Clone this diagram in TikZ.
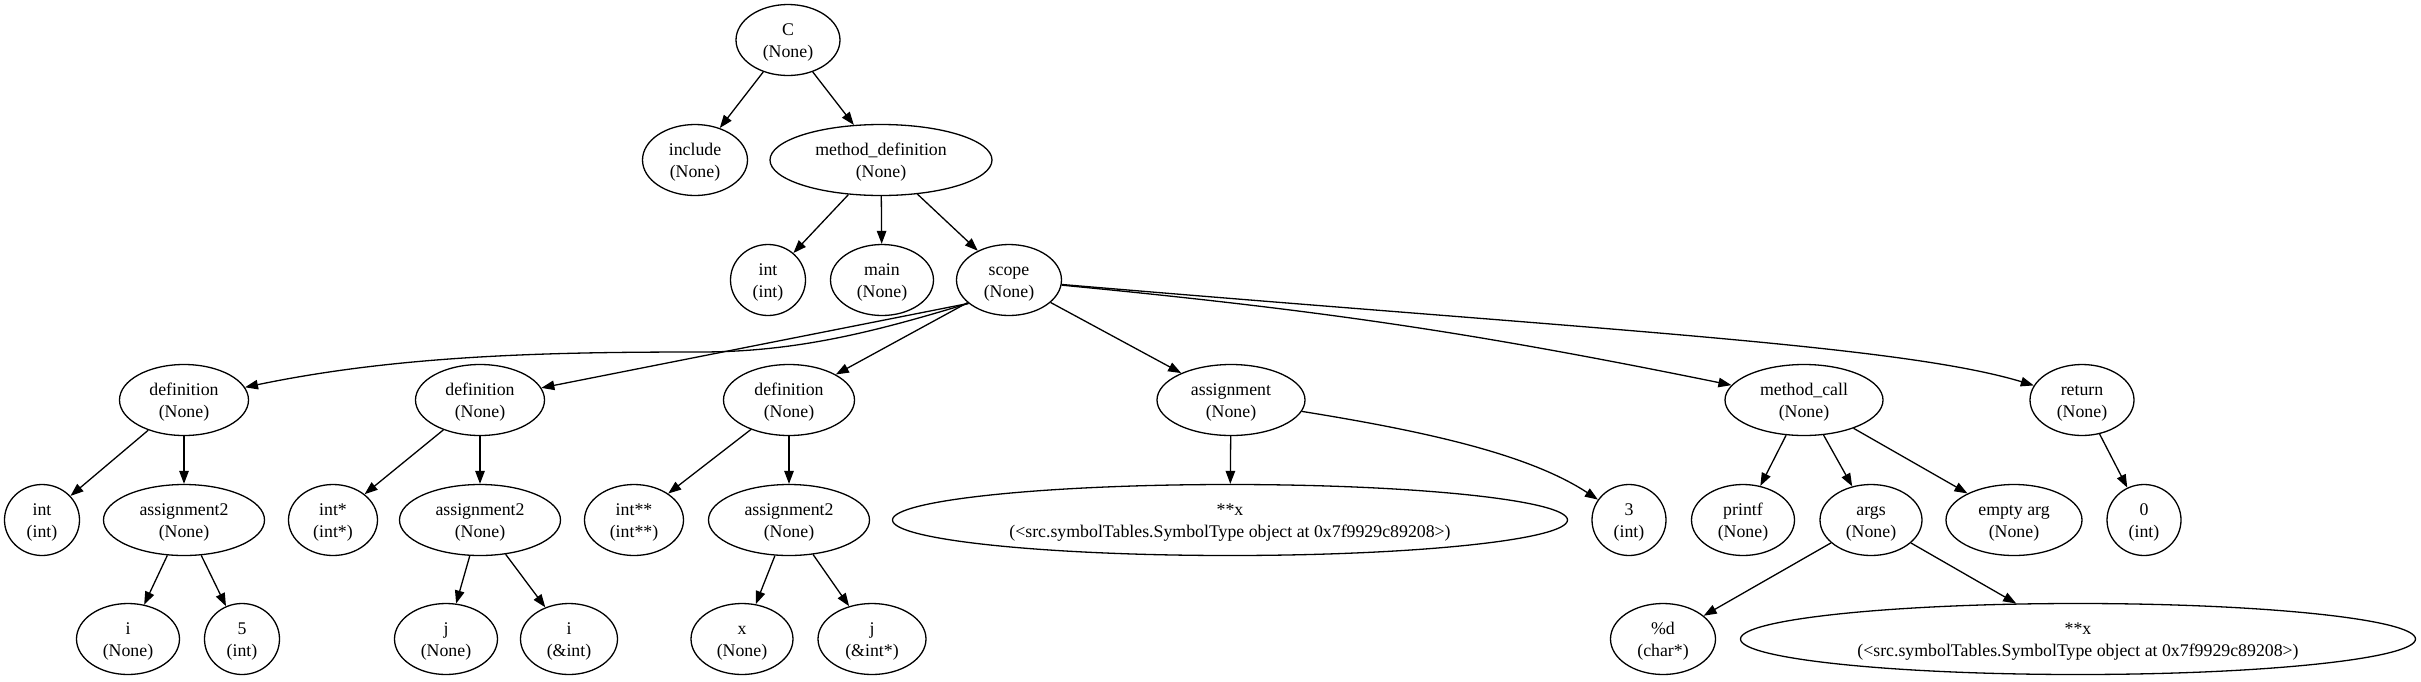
\documentclass[tikz,border=0pt]{standalone}
\usepackage{fontspec}
\setmainfont{Liberation Serif}
\usetikzlibrary{shapes.geometric,arrows.meta}
\newcommand\gvfont{\fontsize{17.8pt}{21.5pt}\selectfont}
\tikzset{
  gv/.style={ellipse, draw, line width=1.3pt, inner sep=0pt, minimum height=71pt,
             align=center, font=\gvfont, text height=38pt, text depth=4pt},
  arr/.style={-{Triangle[length=13pt,width=9.5pt]}, line width=1.3pt},
}
\begin{document}
\begin{tikzpicture}[x=1pt,y=-1pt]
\path[fill=white, use as bounding box] (0,0) rectangle (2421,681);
% rank 0
\node[gv, minimum width=104pt] (C) at (788,40) {C\\(None)};
% rank 1
\node[gv, minimum width=105pt] (inc) at (695,160) {include\\(None)};
\node[gv, minimum width=222pt] (md) at (881,160) {method\_definition\\(None)};
% rank 2
\node[gv, minimum width=75pt] (ti) at (768,280) {int\\(int)};
\node[gv, minimum width=103pt] (mn) at (882,280) {main\\(None)};
\node[gv, minimum width=105pt] (sc) at (1009,280) {scope\\(None)};
% rank 3
\node[gv, minimum width=129pt] (d1) at (184,400) {definition\\(None)};
\node[gv, minimum width=129pt] (d2) at (480,400) {definition\\(None)};
\node[gv, minimum width=131pt] (d3) at (789,400) {definition\\(None)};
\node[gv, minimum width=148pt] (as) at (1231,400) {assignment\\(None)};
\node[gv, minimum width=158pt] (mc) at (1804,400) {method\_call\\(None)};
\node[gv, minimum width=104pt] (rt) at (2082,400) {return\\(None)};
% rank 4
\node[gv, minimum width=75pt] (il) at (42,520) {int\\(int)};
\node[gv, minimum width=161pt] (a1) at (184,520) {assignment2\\(None)};
\node[gv, minimum width=89pt] (ip) at (333,520) {int*\\(int*)};
\node[gv, minimum width=161pt] (a2) at (480,520) {assignment2\\(None)};
\node[gv, minimum width=99pt] (ipp) at (634,520) {int**\\(int**)};
\node[gv, minimum width=161pt] (a3) at (789,520) {assignment2\\(None)};
\node[gv, minimum width=675pt] (xa) at (1230,520) {**x\\(<src.symbolTables.SymbolType object at 0x7f9929c89208>)};
\node[gv, minimum width=74pt] (th) at (1629,520) {3\\(int)};
\node[gv, minimum width=103pt] (pf) at (1743,520) {printf\\(None)};
\node[gv, minimum width=102pt] (ar) at (1871,520) {args\\(None)};
\node[gv, minimum width=136pt] (ea) at (2014,520) {empty arg\\(None)};
\node[gv, minimum width=74pt] (zr) at (2144,520) {0\\(int)};
% rank 5
\node[gv, minimum width=103pt] (i1) at (128,639) {i\\(None)};
\node[gv, minimum width=75pt] (f5) at (242,639) {5\\(int)};
\node[gv, minimum width=103pt] (j1) at (446,639) {j\\(None)};
\node[gv, minimum width=97pt] (i2) at (569,639) {i\\(\&int)};
\node[gv, minimum width=102pt] (x1) at (742,639) {x\\(None)};
\node[gv, minimum width=108pt] (j2) at (872,639) {j\\(\&int*)};
\node[gv, minimum width=105pt] (pd) at (1663,639) {\%d\\(char*)};
\node[gv, minimum width=675pt] (xb) at (2078,639) {**x\\(<src.symbolTables.SymbolType object at 0x7f9929c89208>)};
% edges
\draw[arr] (C) -- (inc);
\draw[arr] (C) -- (md);
\draw[arr] (md) -- (ti);
\draw[arr] (md) -- (mn);
\draw[arr] (md) -- (sc);
\draw[arr] (sc.210) .. controls (880,330) and (800,352) .. (700,352)
                    .. controls (550,352) and (400,355) .. (d1);
\draw[arr] (sc.210) -- (d2);
\draw[arr] (sc) -- (d3);
\draw[arr] (sc) -- (as);
\draw[arr] (sc) to[bend left=3] (mc);
\draw[arr] (sc) .. controls (1600,330) and (1900,345) .. (rt);
\draw[arr] (d1) -- (il);
\draw[arr] (d1) -- (a1);
\draw[arr] (a1) -- (i1);
\draw[arr] (a1) -- (f5);
\draw[arr] (d2) -- (ip);
\draw[arr] (d2) -- (a2);
\draw[arr] (a2) -- (j1);
\draw[arr] (a2) -- (i2);
\draw[arr] (d3) -- (ipp);
\draw[arr] (d3) -- (a3);
\draw[arr] (a3) -- (x1);
\draw[arr] (a3) -- (j2);
\draw[arr] (as) -- (xa);
\draw[arr] (as) .. controls (1430,432) and (1530,455) .. (th);
\draw[arr] (mc) -- (pf);
\draw[arr] (mc) -- (ar);
\draw[arr] (mc) -- (ea);
\draw[arr] (ar) -- (pd);
\draw[arr] (ar) -- (xb);
\draw[arr] (rt) -- (zr);
\end{tikzpicture}
\end{document}
